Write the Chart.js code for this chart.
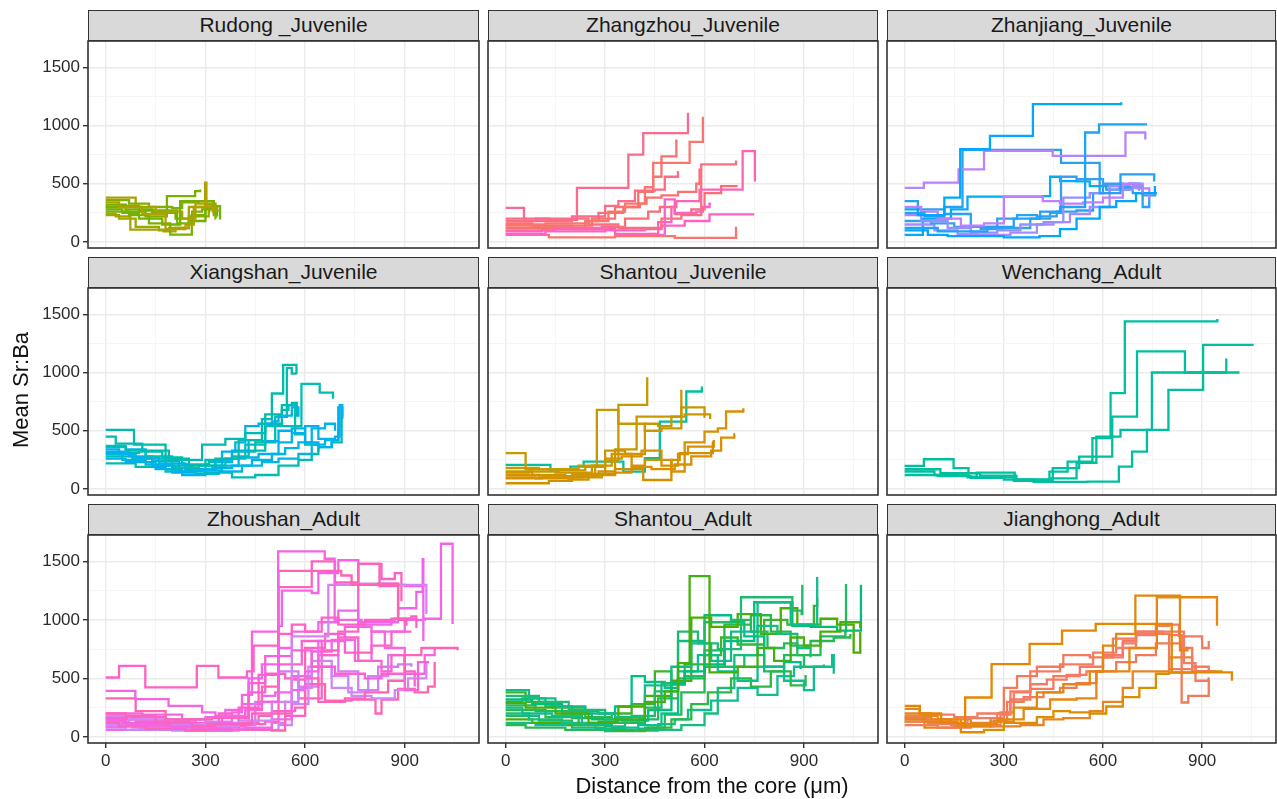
<!DOCTYPE html>
<html>
<head>
<meta charset="utf-8">
<title>Mean Sr:Ba by distance from the core</title>
<script src="https://cdn.jsdelivr.net/npm/chart.js@4.4.1/dist/chart.umd.min.js"></script>
<style>
  html, body { margin: 0; padding: 0; background: #ffffff; width: 1277px; height: 799px; overflow: hidden; }
  #fig { position: relative; width: 1277px; height: 799px; font-family: Helvetica, "Liberation Sans", Arial, sans-serif; }
  #fig canvas { position: absolute; }
  .strip { position: absolute; box-sizing: border-box; background: #d9d9d9; border: 1.5px solid #333333;
           text-align: center; color: #1a1a1a; font-size: 21px; line-height: 28px; white-space: nowrap; }
  .axis-title { position: absolute; color: #111111; font-size: 22px; text-align: center; white-space: nowrap; }
</style>
</head>
<body>
<div id="fig"></div>
<script>
// ---- facet titles and axis ticks ----
const panelNames = ['Rudong _Juvenile', 'Zhangzhou_Juvenile', 'Zhanjiang_Juvenile',
                    'Xiangshan_Juvenile', 'Shantou_Juvenile', 'Wenchang_Adult',
                    'Zhoushan_Adult', 'Shantou_Adult', 'Jianghong_Adult'];
const xMajor = [0, 300, 600, 900];
const xMinor = [150, 450, 750, 1050];
const yMajor = [0, 500, 1000, 1500];
const yMinor = [250, 750, 1250];
const xTitle = 'Distance from the core (\u03bcm)';
const yTitle = 'Mean Sr:Ba';

// ---- per-fish step profiles: [distance (µm), mean Sr:Ba] change points ----
const rudong = [
  [[0,380],[90,300],[150,260],[230,200],[270,330],[330,270],[340,270]],
  [[0,340],[40,300],[110,240],[180,110],[240,150],[265,300],[299,510],[303,300],[322,260],[325,260]],
  [[0,300],[60,260],[120,220],[184,394],[269,437],[284,450]],
  [[0,280],[50,250],[100,200],[170,150],[224,351],[324,307],[344,193]],
  [[0,260],[70,230],[130,160],[194,63],[259,230],[300,290],[335,220],[336,220]],
  [[0,240],[30,220],[74,106],[174,90],[210,120],[250,300],[330,310],[332,310]],
  [[0,320],[60,280],[140,250],[210,200],[250,180],[300,320],[330,240],[331,240]],
  [[0,230],[40,200],[90,130],[160,100],[190,120],[250,220],[310,280],[330,200],[331,200]],
  [[0,300],[50,310],[100,270],[170,270],[215,160],[260,260],[290,280],[312,260],[313,260]],
  [[0,360],[70,330],[130,300],[200,290],[230,340],[280,350],[325,230],[326,230]]
];
const zhangzhou = [
  [[0,293],[55,200],[130,190],[215,465],[370,750],[415,935],[550,1110]],
  [[0,150],[120,160],[250,180],[310,260],[360,330],[420,470],[445,680],[555,860],[595,1075]],
  [[0,120],[100,140],[260,200],[330,300],[400,430],[445,560],[470,735],[515,880]],
  [[0,100],[150,120],[330,70],[460,170],[500,300],[515,350],[585,450],[715,780],[750,780],[752,520]],
  [[0,180],[90,200],[250,150],[340,120],[470,200],[530,230],[590,667],[693,667],[695,700]],
  [[0,70],[120,90],[300,100],[420,110],[470,140],[540,180],[615,236],[750,236]],
  [[0,60],[130,40],[330,50],[510,35],[693,35],[695,130]],
  [[0,200],[60,180],[200,220],[300,310],[340,350],[390,440],[450,450],[480,560],[520,600],[522,600]],
  [[0,140],[100,120],[240,180],[280,250],[355,300],[405,330],[425,380],[470,400],[520,430],[575,500],[585,620],[590,620]],
  [[0,90],[110,110],[330,60],[480,365],[510,250],[575,260],[595,300],[615,330],[620,330]],
  [[0,160],[80,140],[200,110],[290,130],[360,200],[430,260],[465,300],[510,240],[560,280],[600,420],[650,480],[700,480]]
];
const zhanjiang = [
  [[0,280],[40,230],[120,380],[168,796],[258,911],[388,1184],[653,1184],[655,1200]],
  [[0,120],[100,90],[250,130],[330,200],[410,260],[470,300],[546,940],[588,1010],[728,1010],[730,1020]],
  [[0,465],[58,510],[163,624],[240,782],[448,740],[668,940],[728,880]],
  [[0,250],[60,220],[120,300],[175,790],[473,680],[583,680],[590,420],[653,580],[753,580],[755,520]],
  [[0,230],[50,180],[130,120],[200,80],[280,100],[350,150],[420,170],[480,380],[560,420],[620,450],[690,480],[720,430],[722,430]],
  [[0,100],[70,60],[130,50],[300,40],[408,50],[470,110],[520,200],[590,300],[640,350],[700,420],[755,420],[757,480]],
  [[0,300],[50,260],[100,200],[170,140],[240,160],[300,390],[418,350],[470,330],[540,340],[600,380],[660,500],[700,460],[740,380],[742,380]],
  [[0,180],[80,160],[150,130],[230,110],[300,120],[380,200],[440,250],[473,560],[520,540],[600,500],[660,470],[720,400],[758,430],[760,430]],
  [[0,150],[90,100],[160,70],[220,60],[320,80],[400,150],[450,170],[500,240],[560,300],[620,480],[680,500],[720,470],[722,470]],
  [[0,350],[40,280],[120,240],[200,130],[280,200],[340,230],[400,220],[460,260],[520,270],[570,420],[600,480],[650,460],[690,420],[720,300],[740,420],[760,430]],
  [[0,60],[55,200],[140,280],[190,390],[418,394],[440,560],[470,523],[520,520],[560,480],[610,450],[680,500],[710,450],[712,450]]
];
const xiangshan = [
  [[0,507],[85,380],[180,260],[250,200],[330,260],[400,420],[470,600],[500,820],[534,1066],[574,990]],
  [[0,450],[30,390],[110,330],[190,250],[290,380],[360,430],[420,480],[480,640],[530,720],[560,740],[575,620]],
  [[0,370],[60,330],[120,280],[200,180],[280,200],[360,260],[420,380],[480,540],[589,903],[644,828],[684,774]],
  [[0,340],[40,300],[90,270],[160,220],[240,160],[330,200],[400,270],[460,300],[520,400],[560,480],[600,540],[640,430],[690,450],[704,720],[712,600]],
  [[0,320],[70,280],[140,200],[210,150],[260,170],[330,240],[380,330],[430,420],[470,410],[520,500],[560,520],[600,400],[640,360],[680,420],[700,700],[712,620]],
  [[0,300],[50,250],[120,210],[200,140],[270,130],[340,150],[410,200],[470,230],[520,260],[580,300],[620,380],[660,420],[700,520]],
  [[0,280],[80,260],[140,240],[220,150],[300,140],[380,100],[450,120],[520,200],[580,250],[620,300],[640,360],[680,400],[710,680]],
  [[0,260],[60,230],[150,170],[230,120],[300,160],[350,320],[390,400],[420,540],[460,560],[500,580],[520,630],[560,700],[580,620]],
  [[0,220],[90,190],[180,150],[240,170],[300,250],[380,280],[430,330],[480,560],[530,680],[550,720],[570,470],[600,380],[640,320]],
  [[0,360],[60,340],[120,260],[180,200],[260,170],[320,180],[380,200],[440,250],[500,300],[540,350],[580,400],[620,520],[660,560],[690,500]],
  [[0,310],[100,320],[170,270],[230,210],[310,230],[380,320],[450,400],[510,620],[545,1040],[560,990],[575,990]]
];
const shantouJuvenile = [
  [[0,180],[100,170],[220,200],[300,240],[340,722],[425,722],[427,960]],
  [[0,307],[60,170],[150,140],[260,200],[275,679],[340,560],[420,500],[470,520],[528,520],[530,851]],
  [[0,150],[80,120],[180,110],[280,150],[330,340],[395,622],[525,622],[540,640],[615,640],[617,600]],
  [[0,120],[100,100],[200,130],[270,200],[320,300],[380,200],[420,250],[500,150],[540,400],[600,493],[640,520],[665,665],[715,665],[717,694]],
  [[0,100],[90,90],[190,80],[250,130],[300,260],[350,280],[410,330],[470,200],[520,300],[550,364],[625,364],[628,420]],
  [[0,49],[130,70],[200,100],[290,130],[330,170],[415,77],[500,250],[525,307],[600,307],[625,400],[627,400]],
  [[0,140],[70,150],[160,160],[240,190],[300,330],[360,300],[420,560],[460,540],[500,620],[530,700],[600,620],[602,620]],
  [[0,90],[110,100],[230,120],[330,140],[380,190],[440,170],[510,210],[560,280],[620,330],[650,440],[690,470],[692,470]],
  [[0,206],[135,163],[195,192],[235,235],[355,149],[420,264],[465,579],[545,837],[590,837],[592,880]]
];
const wenchang = [
  [[0,198],[58,255],[148,178],[193,106],[218,140],[333,83],[438,149],[493,235],[568,436],[623,823],[666,1439],[944,1439],[946,1460]],
  [[0,169],[108,135],[228,115],[338,77],[448,178],[528,278],[628,622],[703,1181],[848,1000],[971,1000],[973,1120]],
  [[0,150],[90,120],[190,100],[330,70],[440,90],[520,225],[580,450],[653,507],[748,1000],[1013,1000]],
  [[0,120],[100,110],[200,95],[300,80],[390,60],[553,63],[648,192],[688,321],[733,507],[798,851],[903,1238],[1056,1238]]
];
const zhoushan = [
  [[0,508],[40,608],[119,423],[274,608],[339,508],[425,560],[445,780],[520,880],[560,960],[600,900],[650,1020],[700,960],[780,1000],[870,1010],[920,1030],[935,930]],
  [[0,394],[89,323],[189,266],[290,210],[330,180],[420,230],[470,300],[519,1586],[659,1523],[689,1000],[770,960],[860,1010],[930,1000]],
  [[0,329],[90,220],[180,150],[320,160],[420,240],[470,430],[520,1420],[709,1380],[740,1300],[820,1310],[880,1000],[905,950]],
  [[0,200],[60,180],[150,120],[260,90],[330,110],[440,200],[520,1280],[620,1500],[690,1320],[760,1480],[824,1290],[880,1040]],
  [[0,180],[70,150],[200,110],[300,90],[400,140],[500,300],[560,860],[620,860],[670,1300],[760,1310],[880,1300],[955,1300],[965,1050]],
  [[0,160],[50,120],[170,100],[260,70],[380,100],[430,380],[480,690],[560,740],[620,600],[690,540],[780,500],[830,540],[900,400],[940,640],[970,650]],
  [[0,140],[60,100],[200,80],[310,60],[420,80],[500,150],[560,400],[600,560],[640,820],[720,940],[800,900],[900,1000],[960,1010],[1009,1651],[1044,966]],
  [[0,120],[40,90],[120,70],[240,55],[380,60],[500,55],[540,180],[600,500],[640,300],[720,330],[780,380],[850,480],[900,700],[950,760],[1000,760],[1059,740]],
  [[0,100],[80,80],[260,60],[410,70],[480,60],[520,100],[560,280],[610,600],[680,420],[740,350],[800,330],[870,400],[910,500],[965,650]],
  [[0,90],[100,110],[250,90],[340,120],[400,160],[430,500],[470,620],[520,760],[560,900],[640,980],[700,1080],[760,980],[820,980],[880,1100],[935,1240],[954,1520],[956,820]],
  [[0,170],[100,140],[200,120],[280,100],[350,180],[400,250],[460,530],[520,620],[590,820],[650,700],[700,850],[760,650],[830,560],[860,700],[900,560],[930,430]],
  [[0,130],[70,150],[200,150],[300,130],[380,100],[450,300],[520,560],[580,430],[640,700],[700,560],[760,400],[820,600],[880,620],[920,600]],
  [[0,110],[120,90],[260,80],[350,90],[420,110],[480,130],[520,200],[560,490],[600,760],[660,880],[720,720],[800,780],[860,900],[920,900]],
  [[0,150],[90,130],[250,100],[320,80],[400,120],[460,180],[500,220],[570,250],[600,450],[660,310],[740,320],[812,200],[830,320],[880,410],[930,380],[970,430],[990,640]],
  [[0,200],[110,190],[230,150],[300,170],[360,230],[410,360],[440,900],[520,950],[530,1250],[620,1230],[640,1400],[700,1510],[760,1300],[900,1290],[960,1290]],
  [[0,80],[60,60],[200,55],[400,70],[500,120],[540,300],[580,420],[620,650],[680,520],[730,380],[790,520],[850,700],[900,640]],
  [[0,160],[80,170],[180,140],[270,120],[340,200],[380,170],[430,460],[480,540],[540,500],[580,330],[650,740],[700,900],[760,1480],[830,1350],[870,1400],[890,1160]],
  [[0,60],[100,70],[240,90],[330,120],[380,210],[410,280],[470,350],[510,380],[560,520],[620,730],[680,830],[750,650],[800,900],[840,760],[900,540],[960,700],[990,760]]
];
const shantouAdult = [
  [[0,290],[60,250],[150,200],[250,120],[330,150],[420,300],[480,390],[520,630],[555,1374],[615,551],[700,600],[760,760],[810,650],[860,850],[900,780],[950,900],[1010,980],[1070,930]],
  [[0,400],[70,330],[150,260],[240,200],[330,170],[420,440],[500,600],[560,800],[620,650],[680,900],[760,1150],[860,960],[938,960],[940,1366]],
  [[0,350],[100,300],[190,230],[300,150],[380,180],[450,390],[520,900],[580,800],[640,750],[710,1194],[865,1080],[893,1050],[895,1300]],
  [[0,320],[80,280],[170,200],[260,150],[350,140],[430,230],[500,450],[540,560],[600,620],[660,820],[750,1151],[865,950],[920,940],[1000,908],[1070,908],[1072,1300]],
  [[0,270],[90,220],[200,160],[300,120],[400,150],[460,330],[520,500],[600,980],[680,1000],[740,900],[790,760],[840,800],[880,700],[950,860],[1025,900],[1027,1308]],
  [[0,250],[50,200],[140,180],[230,110],[320,80],[400,100],[470,200],[520,560],[580,700],[640,560],[700,480],[760,600],[840,480],[900,400],[930,600],[985,700],[990,540]],
  [[0,230],[120,170],[220,100],[320,60],[430,80],[500,150],[560,280],[610,380],[680,500],[740,430],[800,560],[860,440],[905,530]],
  [[0,200],[70,150],[170,120],[270,70],[360,55],[460,60],[530,100],[600,200],[640,420],[690,700],[760,950],[820,880],[880,760],[920,680]],
  [[0,180],[100,140],[200,110],[300,90],[360,120],[420,250],[470,460],[540,520],[600,740],[660,600],[720,700],[780,560],[840,700],[900,600],[960,620]],
  [[0,150],[80,120],[190,100],[280,130],[340,260],[420,350],[500,480],[560,1020],[620,940],[700,1050],[770,880],[830,1100],[880,960],[950,1010],[1000,960],[1050,720],[1070,900]],
  [[0,120],[90,100],[200,80],[300,60],[400,70],[460,110],[510,150],[550,230],[620,310],[700,420],[760,360],[820,520],[870,600],[905,600]],
  [[0,100],[60,80],[180,60],[300,50],[420,80],[480,190],[530,380],[600,600],[660,960],[740,1040],[800,900],[860,780],[920,820],[990,850],[1040,880]],
  [[0,300],[50,330],[120,260],[200,220],[280,200],[330,260],[380,520],[420,470],[480,420],[520,820],[600,1040],[680,980],[720,860],[780,600],[840,640],[890,580]],
  [[0,380],[60,300],[140,250],[240,170],[320,200],[380,280],[450,560],[500,450],[540,620],[600,700],[650,850],[700,790],[780,1000],[850,960],[930,1120],[940,1190]]
];
const jianghong = [
  [[0,266],[46,200],[110,120],[183,337],[263,623],[378,795],[476,908],[578,966],[778,966],[808,551],[988,551],[990,480]],
  [[0,150],[60,130],[160,90],[260,130],[330,250],[400,380],[480,450],[560,560],[600,780],[640,880],[698,1208],[833,740],[855,760],[857,760]],
  [[0,200],[80,150],[170,110],[280,150],[360,240],[440,320],[520,330],[580,560],[680,760],[763,1194],[943,1194],[945,951]],
  [[0,180],[50,150],[140,100],[260,160],[300,420],[340,520],[400,600],[480,700],[560,680],[630,840],[700,900],[780,880],[800,580],[870,600],[880,480],[920,500],[922,500]],
  [[0,130],[90,110],[190,160],[280,200],[320,390],[380,560],[470,620],[570,720],[640,760],[700,900],[840,900],[845,630],[880,560],[930,560],[932,560]],
  [[0,100],[100,80],[200,100],[290,190],[320,320],[380,410],[450,520],[530,600],[600,700],[660,820],[700,880],[800,870],[840,760],[870,600],[920,560],[922,560]],
  [[0,160],[70,120],[150,90],[270,140],[310,300],[360,340],[420,380],[470,420],[520,460],[580,560],[640,640],[700,700],[760,800],[838,294],[858,351],[918,351],[920,500]],
  [[0,130],[60,80],[170,40],[240,60],[300,120],[400,170],[450,220],[500,210],[560,200],[610,260],[660,340],[710,420],[760,540],[800,550],[880,560],[960,560],[962,560]],
  [[0,240],[45,180],[100,150],[200,120],[260,90],[350,100],[420,150],[480,160],[560,220],[600,300],[660,420],[690,560],[760,560],[800,680],[870,560],[940,560],[942,560]],
  [[0,170],[80,190],[150,170],[220,200],[290,210],[330,380],[380,450],[430,490],[490,530],[550,560],[600,680],[660,800],[700,870],[760,950],[800,960],[830,860],[900,760],[920,820]]
];

// ---- line colours per facet ----
const rudongColors = ['#A8A300','#B29F00','#7BB000','#73B200','#78B100','#A5A400','#6FB300','#9AA800','#76B200','#7FB000'];
const zhangzhouColors = ['#FB6A8E','#F8766D','#F6736F','#FF64B0','#FA6F80','#FF61C3','#F8766D','#FD6A8A','#F9706E','#F763C8','#FA6F76'];
const zhanjiangColors = ['#00A9FF','#1FA4F5','#B983FF','#2AA0F0','#9590FF','#00A6FF','#C17FFF','#3A9EEF','#A88AFF','#27A2F3','#00ABF8'];
const xiangshanColors = ['#00BBAA','#00BAB2','#00BEB5','#00B2EB','#00AEF2','#00B6DD','#00BCAE','#00B0EE','#00BDB0','#00B3E6','#00BDAA'];
const shantouJuvenileColors = ['#C49A00','#C79800','#CB9700','#D89000','#D59100','#D18F00','#C59A00','#DA8E00','#00C09E'];
const wenchangColors = ['#00BF9F','#00BF9F','#00BF9F','#00BF9F'];
const zhoushanColors = ['#FF61C3','#F564E3','#FF64B0','#FF62BC','#D283F5','#FB61D7','#F564E3','#FF63B6','#CF86F7','#F066EA','#FF61C9','#D07EF6','#FD62C2','#FF64B0','#F564E3','#CB85F8','#FF61C3','#F466E5'];
const shantouAdultColors = ['#45AF10','#12BC8A','#1FBA72','#00BD7A','#24B95F','#0DBF8E','#2FB745','#16BD7E','#1BBB67','#4CAD00','#0FBE90','#28B852','#00BF88','#3DB22A'];
const jianghongColors = ['#E58700','#E0880F','#E68613','#F07B5F','#F27D63','#F47A62','#EF7C58','#DE8C00','#E88424','#F37B66'];

// ---- layout of the 3 x 3 facet grid ----
const COL_L = [88, 488, 887], COL_R = [479, 878, 1276];
const ROW_T = [41, 288, 535], ROW_B = [248, 495, 743];
const STRIP_H = 31;
const X_MIN = -53.5, X_MAX = 1123.5, Y_MIN = -52, Y_MAX = 1726;
const M_L = 64, M_T = 20, M_R = 20, M_B = 44;   // canvas margin around each panel
const Y_AXIS_W = 54, X_AXIS_H = 30;

const panelSeries = [rudong, zhangzhou, zhanjiang, xiangshan, shantouJuvenile, wenchang, zhoushan, shantouAdult, jianghong];
const panelColors = [rudongColors, zhangzhouColors, zhanjiangColors, xiangshanColors, shantouJuvenileColors,
                     wenchangColors, zhoushanColors, shantouAdultColors, jianghongColors];

const FONT = 'Helvetica, "Liberation Sans", Arial, sans-serif';
Chart.defaults.font.family = FONT;

// dark frame around every panel, as in a bw facet theme
const panelFrame = {
  id: 'panelFrame',
  afterDraw(chart) {
    const a = chart.chartArea, ctx = chart.ctx;
    ctx.save();
    ctx.strokeStyle = '#333333';
    ctx.lineWidth = 1.6;
    ctx.strokeRect(a.left, a.top, a.right - a.left, a.bottom - a.top);
    ctx.restore();
  }
};

const fig = document.getElementById('fig');
const isMajorX = v => xMajor.includes(v);
const isMajorY = v => yMajor.includes(v);
const xTickValues = [...xMajor, ...xMinor].sort((a, b) => a - b);
const yTickValues = [...yMajor, ...yMinor].sort((a, b) => a - b);

panelSeries.forEach((series, i) => {
  const r = Math.floor(i / 3), c = i % 3;
  const left = COL_L[c], top = ROW_T[r];
  const w = COL_R[c] - left, h = ROW_B[r] - top;
  const showY = c === 0, showX = r === 2;
  const yW = showY ? Y_AXIS_W : 0, xH = showX ? X_AXIS_H : 0;

  const cv = document.createElement('canvas');
  cv.width = w + M_L + M_R;
  cv.height = h + M_T + M_B;
  cv.style.left = (left - M_L) + 'px';
  cv.style.top = (top - M_T) + 'px';
  cv.style.width = cv.width + 'px';
  cv.style.height = cv.height + 'px';
  fig.appendChild(cv);

  const colors = panelColors[i];
  const datasets = series.map((pts, k) => ({
    data: pts.map(p => ({ x: p[0], y: p[1] })),
    borderColor: colors[k % colors.length],
    borderWidth: 2.3,
    stepped: true,
    pointRadius: 0,
    fill: false
  }));

  new Chart(cv, {
    type: 'line',
    data: { datasets },
    options: {
      responsive: false,
      animation: false,
      events: [],
      devicePixelRatio: 1,
      layout: { padding: { left: M_L - yW, top: M_T, right: M_R, bottom: M_B - xH } },
      plugins: { legend: { display: false }, tooltip: { enabled: false } },
      scales: {
        x: {
          type: 'linear', min: X_MIN, max: X_MAX,
          afterBuildTicks: s => { s.ticks = xTickValues.map(v => ({ value: v })); },
          afterFit: s => { s.height = xH; },
          border: { display: false },
          grid: {
            color: ctx => (ctx.tick && isMajorX(ctx.tick.value)) ? '#ebebeb' : '#f4f4f4',
            lineWidth: ctx => (ctx.tick && isMajorX(ctx.tick.value)) ? 1.4 : 0.9,
            drawTicks: showX, tickLength: 5, tickWidth: 1.4,
            tickColor: ctx => (ctx.tick && isMajorX(ctx.tick.value)) ? '#333333' : 'rgba(0,0,0,0)'
          },
          ticks: {
            display: showX, autoSkip: false, maxRotation: 0, padding: 3,
            color: '#2b2b2b', font: { size: 17, family: FONT },
            callback: v => isMajorX(v) ? String(v) : ''
          }
        },
        y: {
          type: 'linear', min: Y_MIN, max: Y_MAX,
          afterBuildTicks: s => { s.ticks = yTickValues.map(v => ({ value: v })); },
          afterFit: s => { s.width = yW; },
          border: { display: false },
          grid: {
            color: ctx => (ctx.tick && isMajorY(ctx.tick.value)) ? '#ebebeb' : '#f4f4f4',
            lineWidth: ctx => (ctx.tick && isMajorY(ctx.tick.value)) ? 1.4 : 0.9,
            drawTicks: showY, tickLength: 5, tickWidth: 1.4,
            tickColor: ctx => (ctx.tick && isMajorY(ctx.tick.value)) ? '#333333' : 'rgba(0,0,0,0)'
          },
          ticks: {
            display: showY, autoSkip: false, padding: 3,
            color: '#2b2b2b', font: { size: 17, family: FONT },
            callback: v => isMajorY(v) ? String(v) : ''
          }
        }
      }
    },
    plugins: [panelFrame]
  });

  const strip = document.createElement('div');
  strip.className = 'strip';
  strip.style.left = left + 'px';
  strip.style.top = (top - STRIP_H) + 'px';
  strip.style.width = w + 'px';
  strip.style.height = STRIP_H + 'px';
  strip.textContent = panelNames[i];
  fig.appendChild(strip);
});

// shared axis titles
const xt = document.createElement('div');
xt.className = 'axis-title';
xt.style.left = (712 - 250) + 'px';
xt.style.top = '772px';
xt.style.width = '500px';
xt.style.lineHeight = '28px';
xt.textContent = xTitle;
fig.appendChild(xt);

const yt = document.createElement('div');
yt.className = 'axis-title';
yt.style.left = (21 - 100) + 'px';
yt.style.top = (390 - 14) + 'px';
yt.style.width = '200px';
yt.style.lineHeight = '28px';
yt.style.transform = 'rotate(-90deg)';
yt.textContent = yTitle;
fig.appendChild(yt);
</script>
</body>
</html>
